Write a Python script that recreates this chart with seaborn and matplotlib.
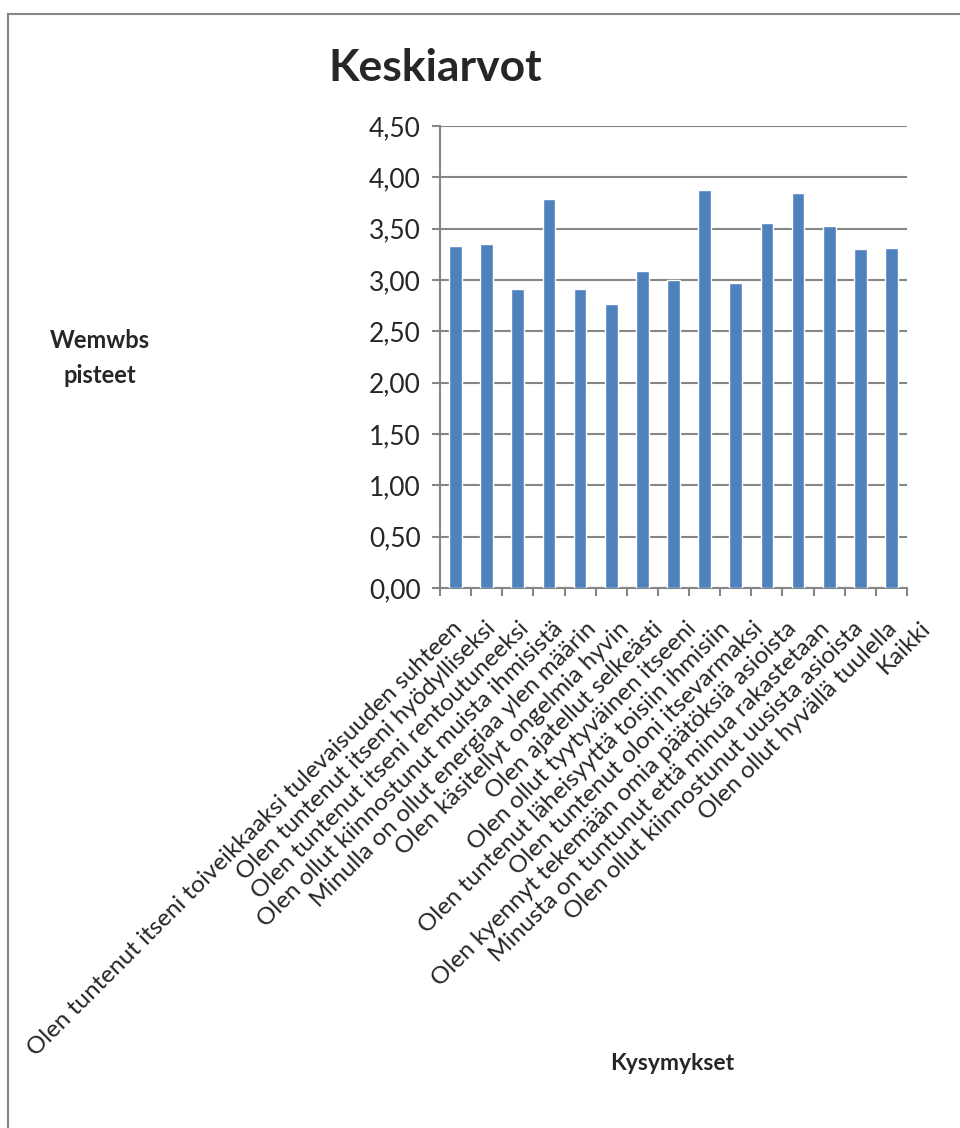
import matplotlib
matplotlib.use("Agg")
import matplotlib.pyplot as plt
from matplotlib.patches import Rectangle
from matplotlib.ticker import FixedLocator
from matplotlib.transforms import ScaledTranslation
import seaborn as sns
import pandas as pd

questions = [
    "Olen tuntenut itseni toiveikkaaksi tulevaisuuden suhteen",
    "Olen tuntenut itseni hyödylliseksi",
    "Olen tuntenut itseni rentoutuneeksi",
    "Olen ollut kiinnostunut muista ihmisistä",
    "Minulla on ollut energiaa ylen määrin",
    "Olen käsitellyt ongelmia hyvin",
    "Olen ajatellut selkeästi",
    "Olen ollut tyytyväinen itseeni",
    "Olen tuntenut läheisyyttä toisiin ihmisiin",
    "Olen tuntenut oloni itsevarmaksi",
    "Olen kyennyt tekemään omia päätöksiä asioista",
    "Minusta on tuntunut että minua rakastetaan",
    "Olen ollut kiinnostunut uusista asioista",
    "Olen ollut hyvällä tuulella",
    "Kaikki",
]
means = [3.33, 3.35, 2.91, 3.79, 2.91, 2.77, 3.09, 3.00, 3.88, 2.97, 3.56, 3.85, 3.53, 3.30, 3.31]
y_ticks = [0.0, 0.5, 1.0, 1.5, 2.0, 2.5, 3.0, 3.5, 4.0, 4.5]
y_tick_labels = ["0,00", "0,50", "1,00", "1,50", "2,00", "2,50", "3,00", "3,50", "4,00", "4,50"]

title = "Keskiarvot"
y_title = "Wemwbs\npisteet"
x_title = "Kysymykset"

sns.set_style("white")
plt.rcParams["font.family"] = ["Lato", "DejaVu Sans"]

W, H = 960, 1128
fig = plt.figure(figsize=(W / 100, H / 100), dpi=100)
ax = fig.add_axes([440 / W, 1 - 588 / H, (907 - 440) / W, (588 - 126) / H])

df = pd.DataFrame({"kysymys": questions, "keskiarvo": means})
sns.barplot(data=df, x="kysymys", y="keskiarvo", color="#4F81BD",
            saturation=1, width=0.41, ax=ax, zorder=3)

grid_c = "#868686"
ax.set_xlim(-0.5, len(questions) - 0.5)
ax.set_ylim(0, 4.5)
ax.yaxis.set_major_locator(FixedLocator(y_ticks))
ax.set_yticklabels(y_tick_labels)
ax.grid(axis="y", color=grid_c, linewidth=1.5, zorder=0)
ax.set_axisbelow(True)

for side in ("top", "right"):
    ax.spines[side].set_visible(False)
for side in ("left", "bottom"):
    ax.spines[side].set_color(grid_c)
    ax.spines[side].set_linewidth(1.5)

ax.tick_params(axis="y", which="major", length=6, width=1.5, color=grid_c,
               labelsize=19, pad=8, left=True)
ax.set_xticks(range(len(questions)))
ax.xaxis.set_minor_locator(FixedLocator([i - 0.5 for i in range(len(questions) + 1)]))
ax.tick_params(axis="x", which="major", length=0, labelsize=17.5, pad=30)
ax.tick_params(axis="x", which="minor", length=6, width=1.5, color=grid_c, bottom=True)
ax.set_xticklabels(questions, rotation=45, ha="right", va="baseline",
                   rotation_mode="anchor")
# rotated category labels fan out slightly wider than the category spacing
for i, lbl in enumerate(ax.get_xticklabels()):
    dx = (8 + 2.3 * i) / 100
    lbl.set_transform(lbl.get_transform() + ScaledTranslation(dx, 0, fig.dpi_scale_trans))
ax.set_xlabel("")
ax.set_ylabel("")

fig.text(435 / W, 1 - 68 / H, title, ha="center", va="center",
         fontsize=32, fontweight="bold")
fig.text(100 / W, 1 - 358 / H, y_title, ha="center", va="center",
         fontsize=17, fontweight="bold", linespacing=1.6)
fig.text(672 / W, 1 - 1063 / H, x_title, ha="center", va="center",
         fontsize=16.5, fontweight="bold")

fig.patches.append(Rectangle((8 / W, -0.01), 1.0, 1 - 14 / H + 0.01,
                             transform=fig.transFigure, fill=False,
                             edgecolor=grid_c, linewidth=1.5))

fig.savefig("out.png", dpi=100, facecolor="white")
